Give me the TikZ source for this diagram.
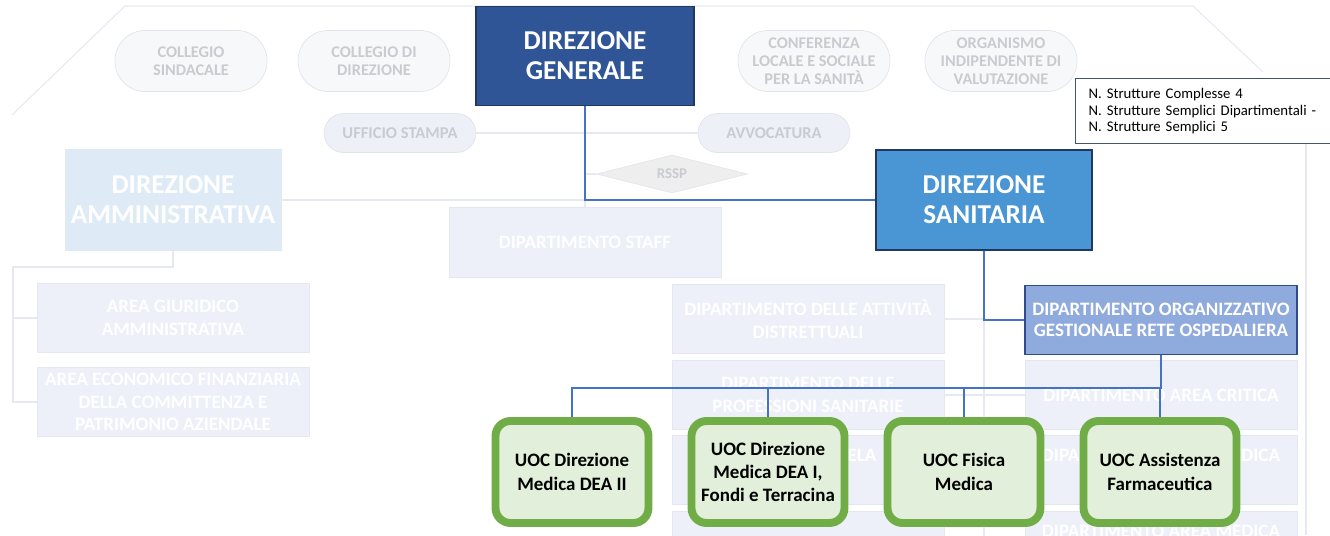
\documentclass[tikz,border=0pt]{standalone}
\usepackage{fontspec}
\setmainfont{Carlito}
\usetikzlibrary{shapes.geometric}

\definecolor{dgblue}{HTML}{2F5597}
\definecolor{dgline}{HTML}{203864}
\definecolor{dsblue}{HTML}{4A95D3}
\definecolor{dogfill}{HTML}{8FAADC}
\definecolor{dogline}{HTML}{2F4B8C}
\definecolor{uocline}{HTML}{70AD47}
\definecolor{uocfill}{HTML}{E2EFDA}
\definecolor{linkblue}{HTML}{4472C4}
\definecolor{fadeblue}{HTML}{DEEBF7}
\definecolor{fadefill}{HTML}{EDF0F8}
\definecolor{fadeline}{HTML}{E3E7F0}
\definecolor{ovalfill}{HTML}{F7F8FA}
\definecolor{ovalline}{HTML}{E1E4EA}
\definecolor{ovaltext}{HTML}{C9CBD0}
\definecolor{pillfill}{HTML}{EDF1F7}
\definecolor{rsspfill}{HTML}{EEEEEE}
\definecolor{faintline}{HTML}{E6E9EF}
\definecolor{infoline}{HTML}{44546A}

\begin{document}
\begin{tikzpicture}[
    x=0.02cm, y=-0.02cm,
    oval/.style={rectangle, draw=ovalline, fill=ovalfill, text=ovaltext, align=center, minimum width=3.04cm, minimum height=1.22cm, rounded corners=0.6cm, inner sep=1pt, font=\bfseries\fontsize{9.3}{10.2}\selectfont},
    pill/.style={oval, fill=pillfill, minimum height=0.78cm, rounded corners=0.39cm, font=\bfseries\fontsize{9.4}{11}\selectfont},
    head/.style={rectangle, draw=dgline, line width=0.8pt, text=white, align=center, minimum width=4.36cm, minimum height=1.98cm, font=\bfseries\fontsize{15.5}{17}\selectfont},
    faded/.style={rectangle, draw=fadeline, fill=fadefill, text=white, align=center, minimum width=5.44cm, minimum height=1.38cm, inner sep=1pt, font=\bfseries\fontsize{10.8}{12.8}\selectfont},
    dept/.style={rectangle, draw=dogline, line width=0.8pt, fill=dogfill, text=white, align=center, minimum width=5.44cm, minimum height=1.38cm, inner sep=1pt, font=\bfseries\fontsize{10.8}{12.3}\selectfont},
    uoc/.style={rectangle, draw=uocline, line width=4.5pt, fill=uocfill, rounded corners=0.3cm, align=center, minimum width=3.06cm, minimum height=2.04cm, inner sep=1pt, font=\bfseries\fontsize{10.8}{13.2}\selectfont},
    link/.style={draw=linkblue, line width=0.6pt},
    faint/.style={draw=faintline, line width=0.6pt}
]
    \useasboundingbox (0,0) rectangle (1330,535);

    % Cornice
    \coordinate (fa) at (12,115);
    \coordinate (fb) at (125,6);
    \coordinate (fc) at (1193,6);
    \coordinate (fd) at (1263,72);
    \coordinate (fe) at (1306,143);
    \coordinate (ff) at (1306,535);
    \draw[faint] (fa) -- (fb) -- (fc) -- (fd);
    \draw[faint] (fe) -- (ff);

    % Organi
    \node[oval] (sindacale) at (191,61) {COLLEGIO\\SINDACALE};
    \node[oval] (collegio) at (374,61) {COLLEGIO DI\\DIREZIONE};
    \node[oval] (conferenza) at (814,61) {CONFERENZA\\LOCALE E SOCIALE\\PER LA SANIT\`A};
    \node[oval] (oiv) at (1001,61) {ORGANISMO\\INDIPENDENTE DI\\VALUTAZIONE};
    \node[pill] (stampa) at (400,133) {UFFICIO STAMPA};
    \node[pill] (avvocatura) at (774,133) {AVVOCATURA};
    \node[diamond, draw=fadeline, fill=rsspfill, text=ovaltext, aspect=4, inner sep=0pt, minimum width=3.02cm, minimum height=0.76cm, font=\bfseries\fontsize{8.5}{10}\selectfont] (rssp) at (672,174) {RSSP};

    % Direzioni
    \node[head, fill=dgblue] (dg) at (585,56) {DIREZIONE\\GENERALE};
    \node[head, fill=dsblue, minimum width=4.32cm, minimum height=2cm] (ds) at (984,200) {DIREZIONE\\SANITARIA};
    \node[head, draw=fadeline, line width=0.4pt, fill=fadeblue, minimum width=4.32cm, minimum height=2.02cm] (da) at (173,200) {DIREZIONE\\AMMINISTRATIVA};

    % Nota
    \node[draw=infoline, line width=0.7pt, fill=white, anchor=north west, align=left, text width=4.58cm, inner xsep=0.26cm, minimum width=5.1cm, minimum height=1.3cm, font=\fontsize{8.4}{9.4}\selectfont] (nota) at (1075,78) {N. Strutture Complesse 4\\N. Strutture Semplici Dipartimentali -\\N. Strutture Semplici 5};

    % Aree e dipartimenti sullo sfondo
    \node[faded, minimum height=1.4cm] (staff) at (585,242) {DIPARTIMENTO STAFF};
    \node[faded] (giuridico) at (173,318) {AREA GIURIDICO\\AMMINISTRATIVA};
    \node[faded] (economico) at (173,402) {AREA ECONOMICO FINANZIARIA\\DELLA COMMITTENZA E\\PATRIMONIO AZIENDALE};
    \node[faded] (distretti) at (808,319) {DIPARTIMENTO DELLE ATTIVIT\`A\\DISTRETTUALI};
    \node[faded] (professioni) at (808,395) {DIPARTIMENTO DELLE\\PROFESSIONI SANITARIE};
    \node[faded] (tutela) at (808,470) {SALUTE E TUTELA\\\strut};
    \node[faded] (riga4) at (808,546) {};
    \node[faded] (critica) at (1161,395) {DIPARTIMENTO AREA CRITICA};
    \node[faded] (areamed1) at (1161,470) {DIPARTIMENTO AREA MEDICA\\\strut};
    \node[faded] (areamed2) at (1161,546) {DIPARTIMENTO AREA MEDICA\\\strut};

    % Linee sullo sfondo
    \coordinate (dadown) at (173,267);
    \coordinate (daleft) at (13,267);
    \draw[faint] (da.south) -- (dadown) -- (daleft) |- (economico.west);
    \draw[faint] (daleft |- giuridico.west) -- (giuridico.west);
    \draw[faint] (da.east) -- (da.east -| dg.south) -- (staff.north);
    \draw[faint] (stampa.east) -- (avvocatura.west);
    \draw[faint] (rssp.west) -- (rssp.west -| dg.south);
    \draw[faint] (distretti.east) -- (distretti.east -| ds.south) -- (ds.south |- riga4.south);
    \draw[faint] (professioni.east) -- (critica.west);

    % Dipartimento rete ospedaliera
    \node[dept] (dog) at (1161,320) {DIPARTIMENTO ORGANIZZATIVO\\GESTIONALE RETE OSPEDALIERA};

    % UOC
    \node[uoc] (uoc1) at (572,472) {UOC Direzione\\Medica DEA II};
    \node[uoc] (uoc2) at (768,472) {UOC Direzione\\Medica DEA I,\\Fondi e Terracina};
    \node[uoc] (uoc3) at (964,472) {UOC Fisica\\Medica};
    \node[uoc] (uoc4) at (1160,472) {UOC Assistenza\\Farmaceutica};

    % Collegamenti
    \coordinate (bus) at (1160,388);
    \draw[link] (dg.south) |- (ds.west);
    \draw[link] (ds.south) |- (dog.west);
    \draw[link] (dog.south) -- (dog.south |- bus) -| (uoc1.north);
    \draw[link] (uoc2.north) -- (uoc2.north |- bus);
    \draw[link] (uoc3.north) -- (uoc3.north |- bus);
    \draw[link] (uoc4.north) -- (uoc4.north |- bus);
\end{tikzpicture}
\end{document}
